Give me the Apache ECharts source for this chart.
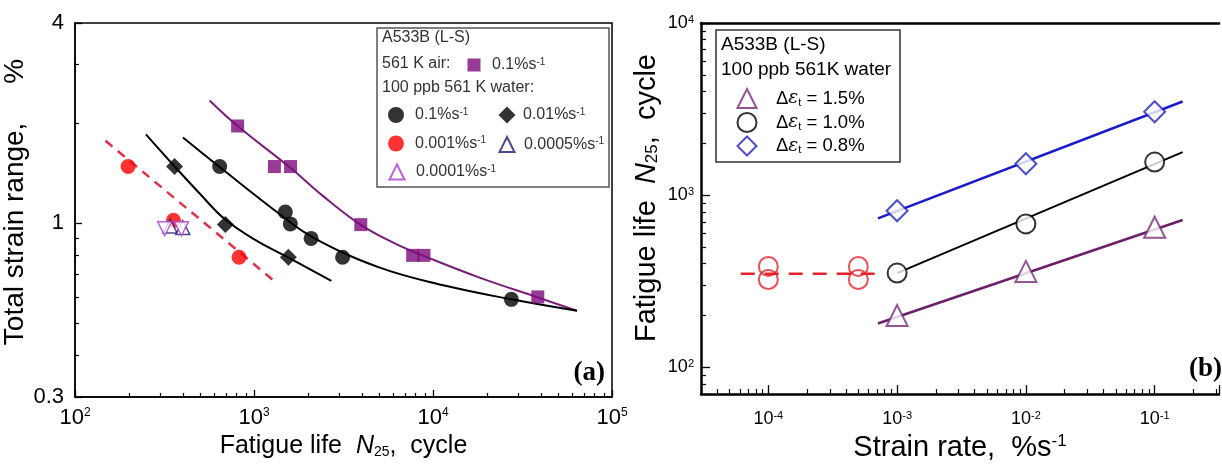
<!DOCTYPE html>
<html>
<head>
<meta charset="utf-8">
<script src="https://cdn.jsdelivr.net/npm/echarts@6/dist/echarts.min.js"></script>
<style>
  html, body { margin: 0; padding: 0; background: #fff; }
  #chart { width: 1222px; height: 467px; }
</style>
</head>
<body>
<div id="chart"></div>
<script>
// ---- panel (a): total strain range (%) vs fatigue life N25 ----
const airLife = [810, 1300, 1600, 3950, 7700, 8900, 38500];
const airStrain = [1.96, 1.48, 1.48, 0.99, 0.80, 0.80, 0.60];
const w01Life = [643, 1496, 1596, 2084, 3126, 27400];
const w01Strain = [1.48, 1.08, 0.995, 0.90, 0.79, 0.59];
const w001Life = [360, 692, 1556];
const w001Strain = [1.48, 0.99, 0.79];
const w0001Life = [198, 355, 825];
const w0001Strain = [1.48, 1.02, 0.79];
const w00005Life = [340, 400];
const w00005Strain = [0.98, 0.97];
const w00001Life = [317, 393];
const w00001Strain = [0.962, 0.962];

// fitted curves
const airFitLife = [565, 813, 1578, 2415, 3955, 6195, 9100, 18030, 38450, 63700];
const airFitStrain = [2.34, 1.956, 1.475, 1.21, 0.988, 0.866, 0.793, 0.687, 0.598, 0.545];
const w01FitLife = [401, 643, 1387, 2128, 5000, 11780, 27400, 63700];
const w01FitStrain = [1.81, 1.475, 1.066, 0.907, 0.736, 0.648, 0.59, 0.545];
const w001FitLife = [249, 360, 497, 691, 1032, 1557, 2703];
const w001FitStrain = [1.85, 1.482, 1.228, 1.025, 0.886, 0.788, 0.671];
const w0001FitLife = [148, 1275];
const w0001FitStrain = [1.77, 0.675];

// ---- panel (b): fatigue life vs strain rate (%/s) ----
const rates = [0.001, 0.01, 0.1];
const life15 = [200, 361, 651];
const life10 = [353, 681, 1557];
const life08 = [812, 1523, 3053];
const slowRates = [0.0001, 0.0001, 0.0005, 0.0005];
const slowLife = [386, 324, 386, 324];

const fit15Rate = [0.00071, 0.165];
const fit15Life = [180, 718];
const fit10Rate = [0.001, 0.165];
const fit10Life = [353, 1778];
const fit08Rate = [0.00071, 0.165];
const fit08Life = [733, 3500];
const slowFitRate = [0.000061, 0.00071];
const slowFitLife = [350, 350];

// minor tick values (decade sub-divisions)
const aMinorX = [200,300,400,500,600,700,800,900,2000,3000,4000,5000,6000,7000,8000,9000,
                 20000,30000,40000,50000,60000,70000,80000,90000];
const aMinorY = [0.4, 0.5, 0.6, 0.7, 0.8, 0.9, 2, 3];
const bMinorX = [4e-5,5e-5,6e-5,7e-5,8e-5,9e-5,2e-4,3e-4,4e-4,5e-4,6e-4,7e-4,8e-4,9e-4,
                 2e-3,3e-3,4e-3,5e-3,6e-3,7e-3,8e-3,9e-3,0.02,0.03,0.04,0.05,0.06,0.07,0.08,0.09,
                 0.2,0.3];
const bMinorY = [80, 90, 200,300,400,500,600,700,800,900, 2000,3000,4000,5000,6000,7000,8000,9000];

const FONT = 'Liberation Sans, Arial, sans-serif';

function pairs(xs, ys) {
  return xs.map((x, i) => [x, ys[i]]);
}

function powLabel(v) {
  const e = Math.log10(v);
  if (Math.abs(e - Math.round(e)) > 1e-6) return '';
  return '{b|10}{s|' + Math.round(e) + '}';
}

function supRich(big, small) {
  return {
    b: { fontSize: big, fontFamily: FONT, color: '#000' },
    s: { fontSize: small, fontFamily: FONT, color: '#000', verticalAlign: 'top' }
  };
}

function majorAxis(grid, pos, min, max, extra) {
  return Object.assign({
    gridIndex: grid, type: 'log', logBase: 10, position: pos, min: min, max: max,
    splitLine: { show: false },
    axisLine: { onZero: false, lineStyle: { color: '#000', width: grid === 0 ? 1.5 : 2.5 } },
    axisTick: { inside: true, length: grid === 0 ? 7 : 9, lineStyle: { color: '#000', width: 1.3 } }
  }, extra);
}

function minorAxis(grid, pos, min, max, ticks) {
  return {
    gridIndex: grid, type: 'value', position: pos,
    min: Math.log10(min), max: Math.log10(max),
    axisLine: { show: false, onZero: false },
    axisLabel: { show: false },
    splitLine: { show: false },
    axisTick: { inside: true, length: grid === 0 ? 4 : 5, lineStyle: { color: '#000', width: 1.2 },
                customValues: ticks.map(v => Math.log10(v)) }
  };
}

const legendText = {
  a_air: '0.1%s{s|-1}',
  a_w01: '0.1%s{s|-1}',
  a_w001: '0.01%s{s|-1}',
  a_w0001: '0.001%s{s|-1}',
  a_w00005: '0.0005%s{s|-1}',
  a_w00001: '0.0001%s{s|-1}',
  b_15: 'Δ{e|ε}{t|t} = 1.5%',
  b_10: 'Δ{e|ε}{t|t} = 1.0%',
  b_08: 'Δ{e|ε}{t|t} = 0.8%'
};

// one legend block per entry so each can sit where the figure has it
function legendA(name, cx, cy, size, textX) {
  return {
    data: [name], left: cx - size / 2, top: cy - size / 2, itemWidth: size, itemHeight: size, padding: 0,
    selectedMode: false, formatter: n => legendText[n],
    textStyle: { fontSize: 16, fontFamily: FONT, color: '#333', padding: [0, 0, 0, textX - (cx + size / 2 + 5)],
                 rich: { s: { fontSize: 10, fontFamily: FONT, color: '#333', verticalAlign: 'top' } } }
  };
}

function legendB(name, cy) {
  const size = 19;
  return {
    data: [name], left: 746 - size / 2, top: cy - size / 2, itemWidth: size, itemHeight: size, padding: 0,
    selectedMode: false, formatter: n => legendText[n],
    textStyle: { fontSize: 18.5, fontFamily: FONT, color: '#000', padding: [0, 0, 0, 775 - (746 + size / 2 + 5)],
                 rich: { e: { fontSize: 18.5, fontFamily: 'DejaVu Serif, serif', fontStyle: 'italic', color: '#000' },
                         t: { fontSize: 11, fontFamily: FONT, color: '#000', verticalAlign: 'bottom' } } }
  };
}

function headText(x, y, text, size) {
  return { type: 'text', x: x, y: y, z: 10,
           style: { text: text, fontSize: size, fontFamily: FONT, fill: size > 17 ? '#000' : '#333', verticalAlign: 'middle' } };
}

const chart = echarts.init(document.getElementById('chart'));

const option = {
  animation: false,
  backgroundColor: '#fff',
  grid: [
    { left: 75, top: 23, width: 537, height: 374, show: true, borderColor: '#000', borderWidth: 1.5 },
    { left: 701, top: 23, width: 521, height: 372, show: false }
  ],
  xAxis: [
    majorAxis(0, 'bottom', 100, 100000, {
      axisLabel: { formatter: powLabel, margin: 10, rich: supRich(22, 12) },
      name: '{t|Fatigue life  }{i|N}{u|25}{t|,  cycle}', nameLocation: 'middle', nameGap: 35,
      nameTextStyle: { rich: {
        t: { fontSize: 25, fontFamily: FONT, color: '#000' },
        i: { fontSize: 25, fontFamily: FONT, fontStyle: 'italic', color: '#000' },
        u: { fontSize: 14, fontFamily: FONT, color: '#000', verticalAlign: 'bottom' } } }
    }),
    minorAxis(0, 'bottom', 100, 100000, aMinorX),
    majorAxis(1, 'bottom', 3e-5, 0.316, {
      axisLabel: { formatter: powLabel, margin: 16, rich: supRich(18, 11) },
      name: '{t|Strain rate,  %s}{s|-1}', nameLocation: 'middle', nameGap: 36,
      nameTextStyle: { rich: {
        t: { fontSize: 29, fontFamily: FONT, color: '#000' },
        s: { fontSize: 17, fontFamily: FONT, color: '#000', verticalAlign: 'top' } } }
    }),
    minorAxis(1, 'bottom', 3e-5, 0.316, bMinorX),
    // top frame line of panel (b)
    { gridIndex: 1, type: 'value', position: 'top', min: 0, max: 1,
      axisLine: { onZero: false, lineStyle: { color: '#000', width: 2.5 } },
      axisTick: { show: false }, axisLabel: { show: false }, splitLine: { show: false } }
  ],
  yAxis: [
    majorAxis(0, 'left', 0.3, 4, {
      axisLabel: { fontSize: 22, fontFamily: FONT, color: '#000', margin: 11,
                   showMinLabel: true, showMaxLabel: true, formatter: v => String(+v.toPrecision(3)) },
      name: 'Total strain range,     %', nameLocation: 'middle', nameGap: 39,
      nameTextStyle: { fontSize: 28, fontFamily: FONT, color: '#000', padding: [0, 0, 0, 16] }
    }),
    minorAxis(0, 'left', 0.3, 4, aMinorY),
    majorAxis(1, 'left', 70, 10000, {
      axisLabel: { formatter: powLabel, margin: 7, rich: supRich(18, 11) },
      name: '{t|Fatigue life  }{i|N}{u|25}{t|,  cycle}', nameLocation: 'middle', nameGap: 40,
      nameTextStyle: { padding: [0, 0, 0, 21], rich: {
        t: { fontSize: 29, fontFamily: FONT, color: '#000' },
        i: { fontSize: 29, fontFamily: FONT, fontStyle: 'italic', color: '#000' },
        u: { fontSize: 17, fontFamily: FONT, color: '#000', verticalAlign: 'bottom' } } }
    }),
    minorAxis(1, 'left', 70, 10000, bMinorY)
  ],
  legend: [
    legendA('a_air', 474, 63.5, 13, 492),
    legendA('a_w01', 396, 115, 16, 415),
    legendA('a_w001', 507, 115, 17, 523),
    legendA('a_w0001', 396, 143.5, 16, 415),
    legendA('a_w00005', 506, 143.5, 15, 523),
    legendA('a_w00001', 396, 171, 15, 415),
    legendB('b_15', 97.5),
    legendB('b_10', 121.5),
    legendB('b_08', 145)
  ],
  graphic: [
    { type: 'rect', z: 1, shape: { x: 377, y: 28, width: 232, height: 159 },
      style: { fill: '#fff', stroke: '#555', lineWidth: 1.5 } },
    headText(382, 37.5, 'A533B (L-S)', 16),
    headText(382, 63.5, '561 K air:', 16),
    headText(382, 88, '100 ppb 561 K water:', 16),
    { type: 'rect', z: 1, shape: { x: 716, y: 30, width: 184, height: 132 },
      style: { fill: '#fff', stroke: '#333', lineWidth: 1.5 } },
    headText(721, 45, 'A533B (L-S)', 19),
    headText(721, 70, '100 ppb 561K water', 19),
    { type: 'text', x: 605, y: 373, z: 10,
      style: { text: '(a)', fontSize: 27, fontWeight: 'bold', fontFamily: 'Liberation Serif, serif',
               fill: '#000', align: 'right', verticalAlign: 'middle' } },
    { type: 'text', x: 1189, y: 369, z: 10,
      style: { text: '(b)', fontSize: 27, fontWeight: 'bold', fontFamily: 'Liberation Serif, serif',
               fill: '#000', align: 'left', verticalAlign: 'middle' } }
  ],
  series: [
    // (a) fitted curves
    { type: 'line', xAxisIndex: 0, yAxisIndex: 0, data: pairs(airFitLife, airFitStrain), smooth: 0.4,
      symbol: 'none', z: 2, lineStyle: { color: '#7a1e7a', width: 2 } },
    { type: 'line', xAxisIndex: 0, yAxisIndex: 0, data: pairs(w01FitLife, w01FitStrain), smooth: 0.4,
      symbol: 'none', z: 2, lineStyle: { color: '#000', width: 2 } },
    { type: 'line', xAxisIndex: 0, yAxisIndex: 0, data: pairs(w001FitLife, w001FitStrain), smooth: 0.4,
      symbol: 'none', z: 2, lineStyle: { color: '#000', width: 2 } },
    { type: 'line', xAxisIndex: 0, yAxisIndex: 0, data: pairs(w0001FitLife, w0001FitStrain),
      symbol: 'none', z: 2, lineStyle: { color: '#e0304a', width: 2.5, type: [9, 7] } },
    // (a) data points
    { name: 'a_air', type: 'scatter', xAxisIndex: 0, yAxisIndex: 0, data: pairs(airLife, airStrain),
      symbol: 'rect', symbolSize: 13, z: 3, itemStyle: { color: '#7d0a7d' } },
    { name: 'a_w01', type: 'scatter', xAxisIndex: 0, yAxisIndex: 0, data: pairs(w01Life, w01Strain),
      symbol: 'circle', symbolSize: 15, z: 3, itemStyle: { color: '#000' } },
    { name: 'a_w001', type: 'scatter', xAxisIndex: 0, yAxisIndex: 0, data: pairs(w001Life, w001Strain),
      symbol: 'diamond', symbolSize: 17, z: 3, itemStyle: { color: '#000' } },
    { name: 'a_w0001', type: 'scatter', xAxisIndex: 0, yAxisIndex: 0, data: pairs(w0001Life, w0001Strain),
      symbol: 'circle', symbolSize: 15, z: 3, itemStyle: { color: '#ff0000' } },
    { name: 'a_w00005', type: 'scatter', xAxisIndex: 0, yAxisIndex: 0, data: pairs(w00005Life, w00005Strain),
      symbol: 'triangle', symbolSize: 14, z: 4,
      itemStyle: { color: '#fff', borderColor: '#1c1c70', borderWidth: 1.5 } },
    { name: 'a_w00001', type: 'scatter', xAxisIndex: 0, yAxisIndex: 0, data: pairs(w00001Life, w00001Strain),
      symbol: 'triangle', symbolRotate: 180, symbolSize: 14, z: 5,
      itemStyle: { color: '#fff', borderColor: '#a63cd0', borderWidth: 1.5 } },
    // (b) fitted lines
    { type: 'line', xAxisIndex: 2, yAxisIndex: 2, data: pairs(fit15Rate, fit15Life), symbol: 'none', z: 2,
      lineStyle: { color: '#6b1f6b', width: 2.5 } },
    { type: 'line', xAxisIndex: 2, yAxisIndex: 2, data: pairs(fit10Rate, fit10Life), symbol: 'none', z: 2,
      lineStyle: { color: '#000', width: 2 } },
    { type: 'line', xAxisIndex: 2, yAxisIndex: 2, data: pairs(fit08Rate, fit08Life), symbol: 'none', z: 2,
      lineStyle: { color: '#1a1acc', width: 2.5 } },
    { type: 'line', xAxisIndex: 2, yAxisIndex: 2, data: pairs(slowFitRate, slowFitLife), symbol: 'none', z: 2,
      lineStyle: { color: '#e8202a', width: 2.5, type: [14, 10] } },
    // (b) data points
    { name: 'b_15', type: 'scatter', xAxisIndex: 2, yAxisIndex: 2, data: pairs(rates, life15),
      symbol: 'triangle', symbolSize: 21, z: 3,
      itemStyle: { color: '#fff', borderColor: '#7a2a7a', borderWidth: 2 } },
    { name: 'b_10', type: 'scatter', xAxisIndex: 2, yAxisIndex: 2, data: pairs(rates, life10),
      symbol: 'circle', symbolSize: 19, z: 3,
      itemStyle: { color: '#fff', borderColor: '#000', borderWidth: 2 } },
    { name: 'b_08', type: 'scatter', xAxisIndex: 2, yAxisIndex: 2, data: pairs(rates, life08),
      symbol: 'diamond', symbolSize: 21, z: 3,
      itemStyle: { color: '#fff', borderColor: '#2020c0', borderWidth: 2 } },
    { type: 'scatter', xAxisIndex: 2, yAxisIndex: 2, data: pairs(slowRates, slowLife),
      symbol: 'circle', symbolSize: 19, z: 3,
      itemStyle: { color: 'rgba(0,0,0,0)', borderColor: '#e8202a', borderWidth: 2 } }
  ]
};

chart.setOption(option);
</script>
</body>
</html>
